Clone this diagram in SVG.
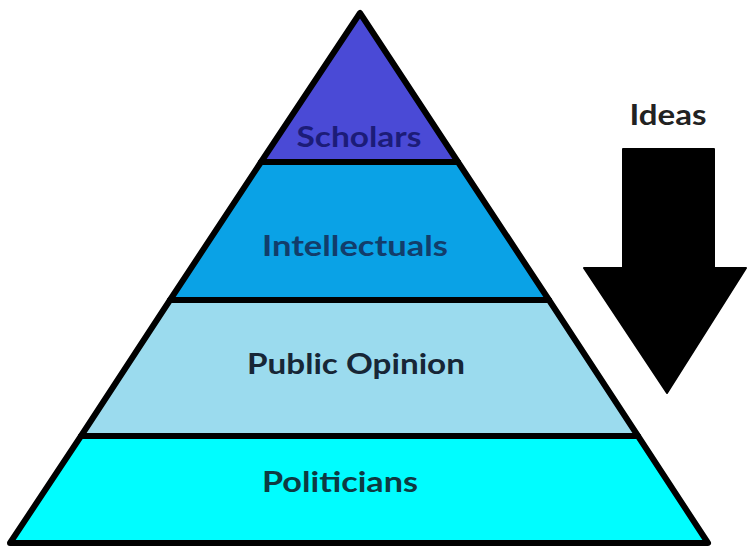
<svg xmlns="http://www.w3.org/2000/svg" width="748" height="547" viewBox="0 0 748 547">
  <style>
    .tier { stroke: #000; stroke-width: 6; stroke-linejoin: round; }
    .lbl { font-family: Lato, "Open Sans", "Liberation Sans", sans-serif; font-weight: bold; font-size: 29px; text-anchor: middle; }
  </style>
  <rect width="748" height="547" fill="#ffffff"/>

  <!-- pyramid tiers, top to bottom -->
  <g id="scholars">
    <polygon class="tier" points="360,13 261,162 458,162" fill="#4a4ad6"/>
    <text class="lbl" x="359" y="147" fill="#1c1c78" textLength="125" lengthAdjust="spacingAndGlyphs">Scholars</text>
  </g>
  <g id="intellectuals">
    <polygon class="tier" points="261,162 458,162 549,300 170,300" fill="#0aa2e6"/>
    <text class="lbl" x="355" y="256" fill="#123d6b" textLength="186" lengthAdjust="spacingAndGlyphs">Intellectuals</text>
  </g>
  <g id="public-opinion">
    <polygon class="tier" points="170,300 549,300 638,436 81,436" fill="#9bdbee"/>
    <text class="lbl" x="356" y="374" fill="#172636" textLength="218" lengthAdjust="spacingAndGlyphs">Public Opinion</text>
  </g>
  <g id="politicians">
    <polygon class="tier" points="81,436 638,436 708,543 10,543" fill="#00fdff"/>
    <text class="lbl" x="340" y="492" fill="#0e3a42" textLength="156" lengthAdjust="spacingAndGlyphs">Politicians</text>
  </g>

  <!-- flow indicator -->
  <g id="ideas">
    <text class="lbl" x="668" y="125" fill="#222222" textLength="77" lengthAdjust="spacingAndGlyphs">Ideas</text>
  </g>
  <g id="connectors">
    <polygon points="623,149 714,149 714,268 746,268 667,393 584,268 623,268" fill="#000000" stroke="#000" stroke-width="2" stroke-linejoin="round"/>
  </g>
</svg>
